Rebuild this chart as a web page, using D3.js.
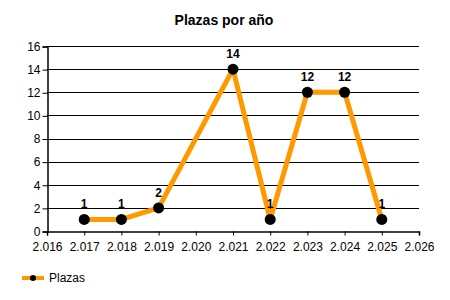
<!DOCTYPE html>
<html>
<head>
<meta charset="utf-8">
<script src="https://cdn.jsdelivr.net/npm/d3@7"></script>
<style>
body { margin: 0; background: #fff; }
text { font-family: "Liberation Sans", Arial, sans-serif; }
.title { font-size: 14px; font-weight: bold; }
.tick text { font-size: 12px; fill: #000; }
.lbl { font-size: 12px; font-weight: bold; text-anchor: middle; }
</style>
</head>
<body>
<div id="chart"></div>
<script>
var years = [2017, 2018, 2019, 2021, 2022, 2023, 2024, 2025];
var plazas = [1, 1, 2, 14, 1, 12, 12, 1];
var xTicks = [2016, 2017, 2018, 2019, 2020, 2021, 2022, 2023, 2024, 2025, 2026];
var yTicks = [0, 2, 4, 6, 8, 10, 12, 14, 16];

var width = 450, height = 300,
	plot_left = 47, plot_right = 419, plot_top = 46, plot_bottom = 231;

var svg = d3.select("#chart").append("svg")
		.attr("width", width)
		.attr("height", height);

var x = d3.scaleLinear().domain([2016, 2026]).range([plot_left, plot_right]);
var y = d3.scaleLinear().domain([0, 16]).range([plot_bottom, plot_top]);

// spanish thousands separator: 2016 -> 2.016
var fmt = function(d){ return "2." + String(d).slice(1); };

svg.append("text")
		.attr("class", "title")
		.attr("x", 224)
		.attr("y", 25)
		.attr("text-anchor", "middle")
		.text("Plazas por año");

// gridlines
svg.selectAll(".grid")
		.data(yTicks.slice(1))
	.enter().append("line")
		.attr("x1", plot_left)
		.attr("x2", plot_right)
		.attr("y1", function(d){ return Math.round(y(d)) + 0.5; })
		.attr("y2", function(d){ return Math.round(y(d)) + 0.5; })
		.attr("stroke", "#000");

svg.append("g")
		.attr("transform", "translate(" + (plot_left + 0.5) + ",0.5)")
		.call(d3.axisLeft(y).tickValues(yTicks).tickSize(5).tickPadding(2));

svg.append("g")
		.attr("transform", "translate(0," + (plot_bottom + 0.5) + ")")
		.call(d3.axisBottom(x).tickValues(xTicks).tickFormat(fmt).tickSize(4).tickPadding(7));

svg.selectAll(".domain").attr("stroke", "#000").attr("stroke-width", 1.5);
svg.selectAll(".tick line").attr("stroke", "#000");

var data = years.map(function(d, i){ return {year: d, value: plazas[i]}; });

svg.append("path")
		.datum(data)
		.attr("fill", "none")
		.attr("stroke", "#ff9900")
		.attr("stroke-width", 5)
		.attr("stroke-linejoin", "round")
		.attr("d", d3.line()
			.x(function(d){ return x(d.year); })
			.y(function(d){ return y(d.value); }));

svg.selectAll(".pt")
		.data(data)
	.enter().append("circle")
		.attr("cx", function(d){ return x(d.year); })
		.attr("cy", function(d){ return y(d.value); })
		.attr("r", 5.5)
		.attr("fill", "#000");

svg.selectAll(".lbl")
		.data(data)
	.enter().append("text")
		.attr("class", "lbl")
		.attr("x", function(d){ return x(d.year); })
		.attr("y", function(d){ return y(d.value) - 11; })
		.text(function(d){ return d.value; });

// legend
var lg = svg.append("g").attr("transform", "translate(22,278)");
lg.append("line").attr("x1", 0).attr("x2", 22).attr("y1", 0).attr("y2", 0)
		.attr("stroke", "#ff9900").attr("stroke-width", 4);
lg.append("circle").attr("cx", 11).attr("cy", 0).attr("r", 3).attr("fill", "#000");
lg.append("text").attr("x", 27).attr("y", 4).attr("font-size", 12).text("Plazas");
</script>
</body>
</html>
